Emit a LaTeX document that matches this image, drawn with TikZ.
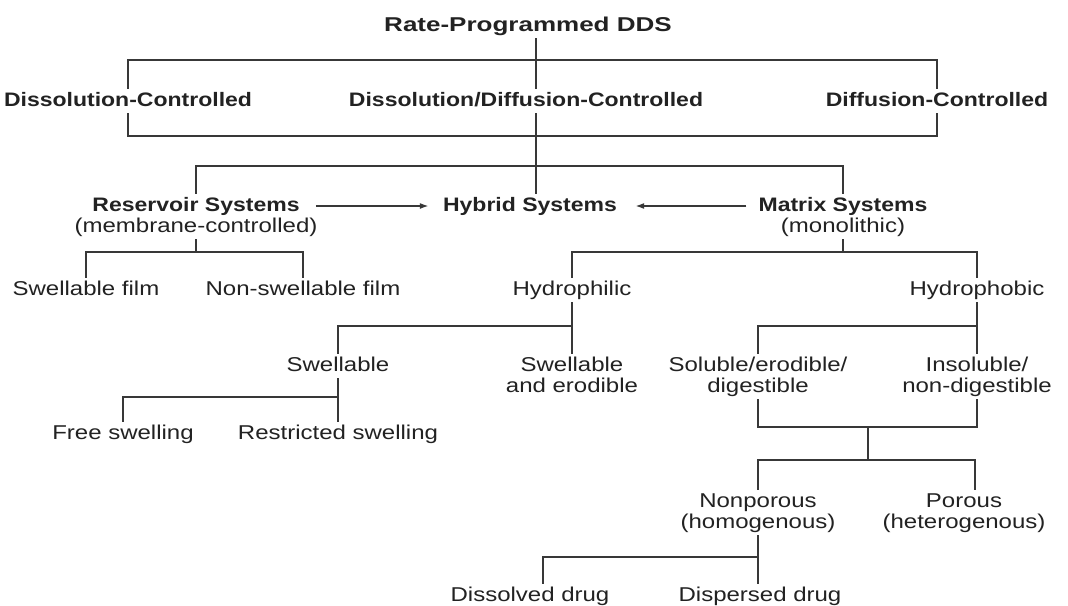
\documentclass[tikz,border=0pt]{standalone}
\usepackage{fontspec}
\setmainfont{Liberation Sans}
\newfontfamily\regf{Liberation Sans}[FakeStretch=1.2]
\newfontfamily\boldf{Liberation Sans}[FakeStretch=1.18]
\newfontfamily\rootf{Liberation Sans}[FakeStretch=1.3]
\usetikzlibrary{arrows.meta}
\definecolor{txt}{HTML}{222222}
\definecolor{lc}{HTML}{383838}
\begin{document}
\begin{tikzpicture}[x=1pt,y=-1pt,
  lbl/.style={text=txt, inner sep=3pt, text height=14pt, text depth=4pt, anchor=base, font=\regf\fontsize{20}{24}\selectfont},
  blbl/.style={lbl, font=\boldf\bfseries\fontsize{19.5}{24}\selectfont},
  rlbl/.style={lbl, font=\rootf\bfseries\fontsize{20}{24}\selectfont},
  ln/.style={draw=lc, line width=1.7pt},
  arr/.style={ln, -{Latex[length=9pt,width=6pt]}}]
\fill[white] (0,0) rectangle (1068,605);
\useasboundingbox (0,0) rectangle (1068,605);
% nodes
\node[rlbl] (root) at (528,31) {Rate-Programmed DDS};
\node[blbl] (dc) at (128,106) {Dissolution-Controlled};
\node[blbl] (ddc) at (526,106) {Dissolution/Diffusion-Controlled};
\node[blbl] (dfc) at (937,106) {Diffusion-Controlled};
\node[blbl] (res) at (196,211) {Reservoir Systems};
\node[lbl] (resb) at (196,232) {(membrane-controlled)};
\node[blbl] (hyb) at (530,211) {Hybrid Systems};
\node[blbl] (mat) at (843,211) {Matrix Systems};
\node[lbl] (matb) at (843,232) {(monolithic)};
\node[lbl] (sf) at (86,295) {Swellable film};
\node[lbl] (nsf) at (303,295) {Non-swellable film};
\node[lbl] (hphil) at (572,295) {Hydrophilic};
\node[lbl] (hphob) at (977,295) {Hydrophobic};
\node[lbl] (sw) at (338,371) {Swellable};
\node[lbl] (swe) at (572,371) {Swellable};
\node[lbl] (swe2) at (572,392) {and erodible};
\node[lbl] (sol) at (758,371) {Soluble/erodible/};
\node[lbl] (sol2) at (758,392) {digestible};
\node[lbl] (ins) at (977,371) {Insoluble/};
\node[lbl] (ins2) at (977,392) {non-digestible};
\node[lbl] (free) at (123,439) {Free swelling};
\node[lbl] (restr) at (338,439) {Restricted swelling};
\node[lbl] (nonp) at (758,507) {Nonporous};
\node[lbl] (nonp2) at (758,528) {(homogenous)};
\node[lbl] (por) at (964,507) {Porous};
\node[lbl] (por2) at (964,528) {(heterogenous)};
\node[lbl] (dis) at (530,601) {Dissolved drug};
\node[lbl] (disp) at (760,601) {Dispersed drug};
% junction coordinates
\coordinate (sp) at (536,0);
\coordinate (h1) at (0,60);
\coordinate (h2) at (0,136);
\coordinate (h3) at (0,166);
\coordinate (h4) at (0,252);
\coordinate (h5) at (0,326);
\coordinate (h6) at (0,397);
\coordinate (h7) at (0,427);
\coordinate (h8) at (0,460);
\coordinate (h9) at (0,557);
\coordinate (mid) at (868,0);
\coordinate (pc) at (975,0);
\coordinate (dt) at (543,0);
% connectors
\draw[ln] (sp |- root.south) -- (sp |- ddc.north);
\draw[ln] (sp |- ddc.south) -- (sp |- hyb.north);
\draw[ln] (dc.north) -- (dc.north |- h1) -- (dfc.north |- h1) -- (dfc.north);
\draw[ln] (dc.south) -- (dc.south |- h2) -- (dfc.south |- h2) -- (dfc.south);
\draw[ln] (res.north) -- (res.north |- h3) -- (mat.north |- h3) -- (mat.north);
\draw[arr, shorten <=13pt, shorten >=11pt] (res) -- (hyb);
\draw[arr, shorten <=9pt, shorten >=15pt] (mat) -- (hyb);
\draw[ln] (resb.south) -- (resb.south |- h4);
\draw[ln] (sf.north) -- (sf.north |- h4) -- (nsf.north |- h4) -- (nsf.north);
\draw[ln] (matb.south) -- (matb.south |- h4);
\draw[ln] (hphil.north) -- (hphil.north |- h4) -- (hphob.north |- h4) -- (hphob.north);
\draw[ln] (hphil.south) -- (swe.north);
\draw[ln] (sw.north) -- (sw.north |- h5) -- (hphil.south |- h5);
\draw[ln] (hphob.south) -- (ins.north);
\draw[ln] (sol.north) -- (sol.north |- h5) -- (hphob.south |- h5);
\draw[ln] (sw.south) -- (restr.north);
\draw[ln] (free.north) -- (free.north |- h6) -- (sw.south |- h6);
\draw[ln] (sol2.south) -- (sol2.south |- h7) -- (ins2.south |- h7) -- (ins2.south);
\draw[ln] (mid |- h7) -- (mid |- h8);
\draw[ln] (nonp.north) -- (nonp.north |- h8) -- (pc |- h8) -- (pc |- por.north);
\draw[ln] (nonp2.south) -- (nonp2.south |- disp.north);
\draw[ln] (dt |- dis.north) -- (dt |- h9) -- (nonp2.south |- h9);
\end{tikzpicture}
\end{document}
